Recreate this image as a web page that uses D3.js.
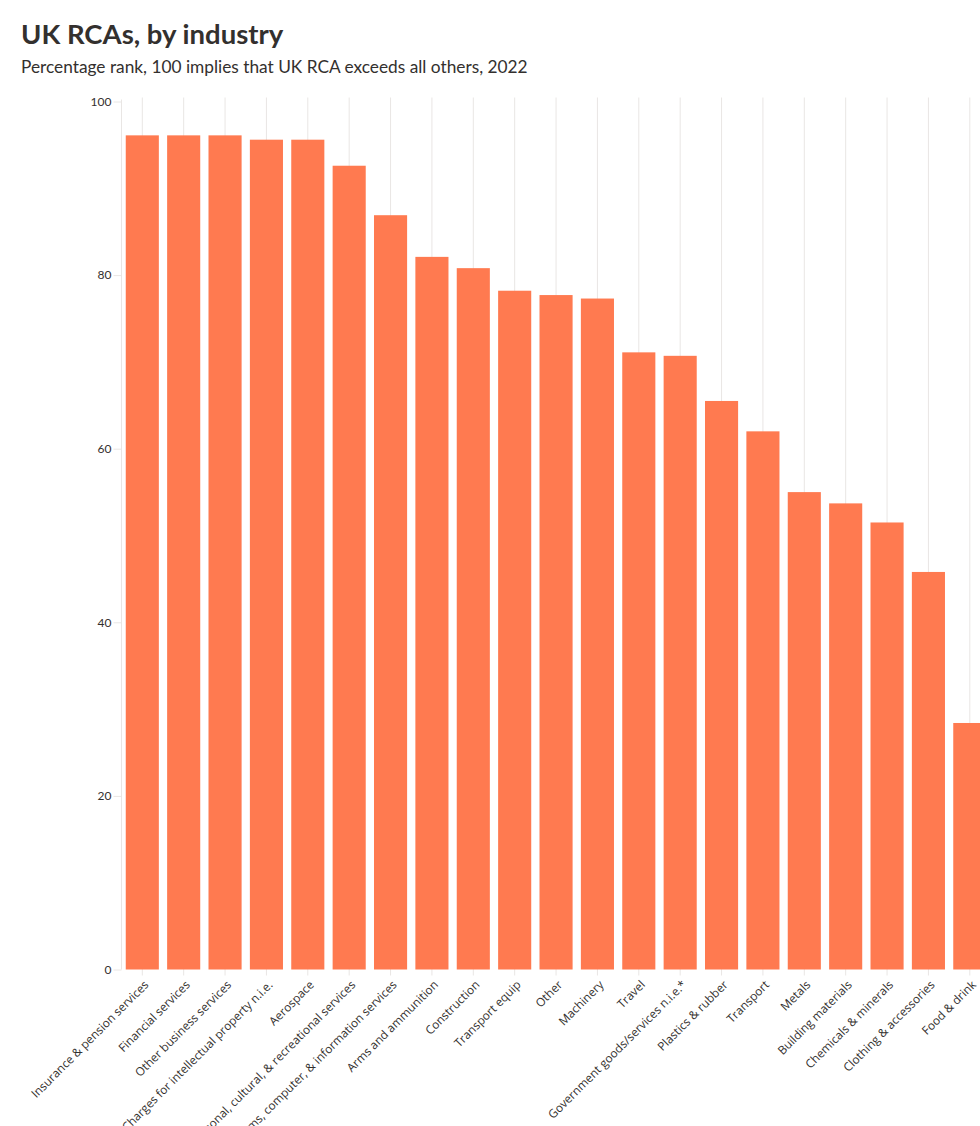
<!DOCTYPE html>
<html>
<head>
<meta charset="utf-8">
<script src="https://cdn.jsdelivr.net/npm/d3@7"></script>
<style>
  html, body { margin: 0; padding: 0; background: #ffffff; }
  svg { display: block; }
</style>
</head>
<body>
<script>
const categories = [
  "Insurance & pension services",
  "Financial services",
  "Other business services",
  "Charges for intellectual property n.i.e.",
  "Aerospace",
  "Personal, cultural, & recreational services",
  "Telecoms, computer, & information services",
  "Arms and ammunition",
  "Construction",
  "Transport equip",
  "Other",
  "Machinery",
  "Travel",
  "Government goods/services n.i.e.*",
  "Plastics & rubber",
  "Transport",
  "Metals",
  "Building materials",
  "Chemicals & minerals",
  "Clothing & accessories",
  "Food & drink"
];
const values = [96.1, 96.1, 96.1, 95.6, 95.6, 92.6, 86.9, 82.1, 80.8, 78.2, 77.7, 77.3, 71.1, 70.7, 65.5, 62.0, 55.0, 53.7, 51.5, 45.8, 28.4];
const yTicks = [0, 20, 40, 60, 80, 100];

const title = "UK RCAs, by industry";
const subtitle = "Percentage rank, 100 implies that UK RCA exceeds all others, 2022";

const W = 980, H = 1126;
const svg = d3.select("body").append("svg").attr("width", W).attr("height", H);

const textColor = "#33302e";
const gridColor = "#e9e6e4";
const barColor = "#ff7a50";

svg.append("text").attr("x", 21).attr("y", 44)
  .attr("font-family", "Lato, 'Open Sans', sans-serif").attr("font-weight", 700)
  .attr("font-size", 27.5).attr("fill", textColor).text(title);
svg.append("text").attr("x", 21).attr("y", 73)
  .attr("font-family", "Lato, 'Open Sans', sans-serif").attr("font-weight", 400)
  .attr("font-size", 17.3).attr("fill", textColor).text(subtitle);

const y = d3.scaleLinear().domain([0, 100]).range([969.5, 101.5]);
const step = 41.375;
const r0 = 125.75 - 0.1 * step;
const x = d3.scaleBand().domain(categories)
  .range([r0, r0 + step * 21]).paddingInner(0.2).paddingOuter(0.1);

// vertical gridlines at band centres
const g = svg.append("g");
g.selectAll("line.grid").data(categories).enter().append("line")
  .attr("class", "grid")
  .attr("x1", d => x(d) + x.bandwidth() / 2).attr("x2", d => x(d) + x.bandwidth() / 2)
  .attr("y1", y(100) - 4).attr("y2", y(0) + 6)
  .attr("stroke", gridColor).attr("stroke-width", 1);

// y axis line
g.append("line").attr("x1", 121.5).attr("x2", 121.5)
  .attr("y1", y(100) - 2).attr("y2", y(0))
  .attr("stroke", gridColor).attr("stroke-width", 1);

// bars
g.selectAll("rect.bar").data(values).enter().append("rect")
  .attr("class", "bar")
  .attr("x", (d, i) => x(categories[i]))
  .attr("width", x.bandwidth())
  .attr("y", d => y(d))
  .attr("height", d => y(0) - y(d))
  .attr("fill", barColor);

// y axis
const yAxis = d3.axisLeft(y).tickValues(yTicks).tickSize(8).tickPadding(2);
const ya = svg.append("g").attr("transform", "translate(121.5,0)").call(yAxis);
ya.select(".domain").remove();
ya.selectAll(".tick line").attr("stroke", gridColor);
ya.selectAll(".tick text").attr("font-family", "Lato, 'Open Sans', sans-serif")
  .attr("font-size", 12).attr("fill", textColor);

// x labels
const xAxis = d3.axisBottom(x).tickSize(0).tickPadding(0);
const xa = svg.append("g").attr("transform", `translate(0,${y(0)})`).call(xAxis);
xa.select(".domain").remove();
xa.selectAll(".tick text")
  .attr("font-family", "'Open Sans', sans-serif")
  .attr("font-size", 11.8).attr("fill", textColor)
  .attr("text-anchor", "end")
  .attr("x", 0).attr("y", 0).attr("dy", 0)
  .attr("transform", "translate(7,16) rotate(-45)");
</script>
</body>
</html>
